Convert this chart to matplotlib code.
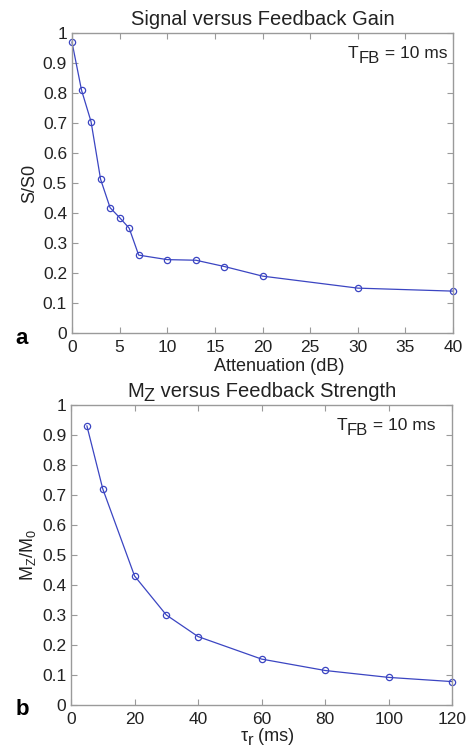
import matplotlib
matplotlib.use("Agg")
import matplotlib.pyplot as plt
from matplotlib.transforms import offset_copy

plt.rcParams["font.family"] = ["Liberation Sans", "DejaVu Sans"]

# panel a
atten_db = [0, 1, 2, 3, 4, 5, 6, 7, 10, 13, 16, 20, 30, 40]
signal = [0.97, 0.81, 0.705, 0.513, 0.418, 0.385, 0.35, 0.26, 0.245, 0.243, 0.222, 0.19, 0.15, 0.14]

# panel b
tau_r = [5, 10, 20, 30, 40, 60, 80, 100, 120]
mz = [0.93, 0.72, 0.43, 0.30, 0.228, 0.153, 0.115, 0.092, 0.078]

LINE = "#3b45c2"
SPINE = "#9a9a9a"
TXT = "#222222"
DPI = 100

fig = plt.figure(figsize=(4.72, 7.52), dpi=DPI)
ax1 = fig.add_axes([0.1525, 0.557, 0.8075, 0.399])
ax2 = fig.add_axes([0.1505, 0.0625, 0.8075, 0.399])
renderer = fig.canvas.get_renderer()


def rich_text(ax, x, y, pieces, ha="left", dy0=0.0):
    """Lay out (text, dy_pt, size) pieces on one baseline, MATLAB-style subscripts."""
    widths = []
    for s, dy, size in pieces:
        t = ax.text(0, 0, s, fontsize=size)
        widths.append(t.get_window_extent(renderer).width * 72.0 / DPI)
        t.remove()
    total = sum(widths)
    start = {"left": 0.0, "center": -total / 2, "right": -total}[ha]
    dx = start
    for (s, dy, size), w in zip(pieces, widths):
        tr = offset_copy(ax.transAxes, fig=fig, x=dx, y=dy + dy0, units="points")
        ax.text(x, y, s, fontsize=size, transform=tr, ha="left", va="baseline",
                color=TXT, clip_on=False)
        dx += w


def style(ax):
    for s in ax.spines.values():
        s.set_color(SPINE)
        s.set_linewidth(1.0)
    ax.tick_params(direction="in", top=True, right=True, length=4,
                   color=SPINE, labelsize=12.5, labelcolor=TXT)
    ax.tick_params(axis="x", pad=5)
    ax.tick_params(axis="y", pad=3.5)
    ax.set_ylim(0, 1)
    ax.set_yticks([0, 0.1, 0.2, 0.3, 0.4, 0.5, 0.6, 0.7, 0.8, 0.9, 1])
    ax.set_yticklabels(["0", "0.1", "0.2", "0.3", "0.4", "0.5", "0.6", "0.7", "0.8", "0.9", "1"])


# ---- panel a ----
ax1.plot(atten_db, signal, color=LINE, lw=0.9, marker="o", ms=4.5,
         mfc="none", mec=LINE, mew=0.9, clip_on=False)
style(ax1)
ax1.set_xlim(0, 40)
ax1.set_xticks(range(0, 41, 5))
ax1.set_ylabel("S/S0", fontsize=13, color=TXT, labelpad=3.5)
rich_text(ax1, 0.5, 1.0, [("Signal versus Feedback Gain", 0, 14.5)], ha="center", dy0=6)
rich_text(ax1, 0.543, 0.0, [("Attenuation (dB)", 0, 13)], ha="center", dy0=-27)
rich_text(ax1, 0.984, 0.917, [("T", 0, 12.5), ("FB", -3.5, 12), (" = 10 ms", 0, 12.5)],
          ha="right")
fig.text(0.032, 0.55, "a", fontsize=16, fontweight="bold", ha="left", va="center")

# ---- panel b ----
ax2.plot(tau_r, mz, color=LINE, lw=0.9, marker="o", ms=4.5,
         mfc="none", mec=LINE, mew=0.9, clip_on=False)
style(ax2)
ax2.set_xlim(0, 120)
ax2.set_xticks(range(0, 121, 20))
ax2.set_ylabel(r"M$_{\mathregular{Z}}$/M$_{\mathregular{0}}$", fontsize=13,
               color=TXT, labelpad=3)
rich_text(ax2, 0.5, 1.0, [("M", 0, 14.5), ("Z", -3.5, 13), (" versus Feedback Strength", 0, 14.5)],
          ha="center", dy0=6)
rich_text(ax2, 0.515, 0.0, [("\u03c4", 0, 13), ("r", -3, 12), (" (ms)", 0, 13)],
          ha="center", dy0=-26)
rich_text(ax2, 0.957, 0.917, [("T", 0, 12.5), ("FB", -3.5, 12), (" = 10 ms", 0, 12.5)],
          ha="right")
fig.text(0.032, 0.056, "b", fontsize=16, fontweight="bold", ha="left", va="center")

fig.savefig("out.png", dpi=DPI)
